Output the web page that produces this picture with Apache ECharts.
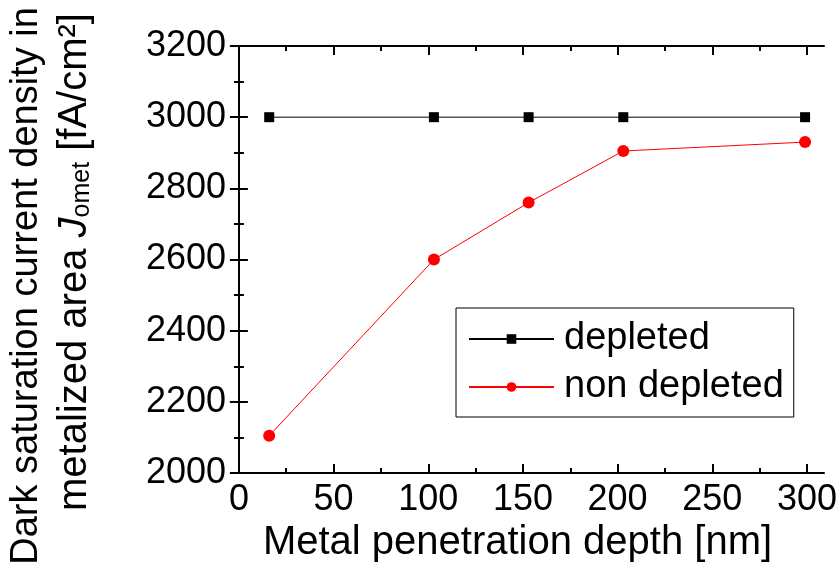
<!DOCTYPE html>
<html>
<head>
<meta charset="utf-8">
<script src="https://cdn.jsdelivr.net/npm/echarts@6/dist/echarts.min.js"></script>
<style>
html, body { margin: 0; padding: 0; background: #fff; }
#myChartMain { width: 840px; height: 568px; }
</style>
</head>
<body>
<div id="myChartMain"></div>
<script>
// metal penetration depth [nm]
var depth = [16, 103, 153, 203, 299];
// J0met [fA/cm2]
var depleted = [3000, 3000, 3000, 3000, 3000];
var nonDepleted = [2105, 2600, 2760, 2905, 2930];
// ticks on the x axis
var xMajor = [0, 50, 100, 150, 200, 250, 300];
var xMinor = [25, 75, 125, 175, 225, 275];

var FONT = '"Liberation Sans", Arial, sans-serif';

function pairs(xs, ys) {
    return xs.map(function (x, i) { return [x, ys[i]]; });
}

var myChart = echarts.init(document.getElementById('myChartMain'));

var axisLine = { show: true, lineStyle: { color: '#000', width: 2 } };

// x axes: major + minor ticks, bottom and top (mirror)
function xAxisDef(pos, ticks, len, withLabel) {
    return {
        type: 'value',
        position: pos,
        min: -1,
        max: 309,
        axisLine: withLabel !== null ? axisLine : { show: false },
        axisTick: { show: true, inside: true, length: len, customValues: ticks,
            lineStyle: { color: '#000', width: 2 } },
        axisLabel: withLabel ? {
            show: true, customValues: xMajor, fontSize: 36, fontFamily: FONT,
            color: '#000', margin: 9
        } : { show: false },
        splitLine: { show: false }
    };
}

var xBottom = xAxisDef('bottom', xMajor, 9, true);
xBottom.name = 'Metal penetration depth [nm]';
xBottom.nameLocation = 'middle';
xBottom.nameGap = 49;
xBottom.nameTextStyle = { fontSize: 40, fontFamily: FONT, color: '#000', padding: [0, 26, 0, 0] };

function yAxisDef(pos, withLabel) {
    return {
        type: 'value',
        position: pos,
        min: 2000,
        max: 3200,
        interval: 200,
        axisLine: axisLine,
        axisTick: { show: true, inside: true, length: 9, lineStyle: { color: '#000', width: 2 } },
        minorTick: { show: true, splitNumber: 2, length: 5, lineStyle: { color: '#000', width: 2 } },
        axisLabel: withLabel ? {
            show: true, fontSize: 36, fontFamily: FONT, color: '#000', margin: 11,
            formatter: function (v) { return String(v); }
        } : { show: false },
        splitLine: { show: false },
        minorSplitLine: { show: false }
    };
}

var option = {
    animation: false,
    backgroundColor: '#fff',
    grid: { left: 237, right: 13, top: 46, bottom: 90, containLabel: false },
    xAxis: [
        xBottom,
        xAxisDef('bottom', xMinor, 5, null),
        xAxisDef('top', xMajor, 9, false),
        xAxisDef('top', xMinor, 5, null)
    ],
    yAxis: [yAxisDef('left', true), yAxisDef('right', false)],
    legend: {
        orient: 'vertical',
        left: 456,
        top: 308,
        padding: [12, 10, 11, 12],
        itemGap: 10,
        itemWidth: 85,
        itemHeight: 12,
        borderColor: '#000',
        borderWidth: 1,
        backgroundColor: '#fff',
        selectedMode: false,
        textStyle: { fontSize: 38, fontFamily: FONT, color: '#000', padding: [0, 0, 0, 5] },
        data: ['depleted', 'non depleted']
    },
    graphic: [
        {
            type: 'text',
            x: 27,
            y: 286,
            rotation: Math.PI / 2,
            style: {
                text: 'Dark saturation current density in',
                fontSize: 38,
                fontFamily: FONT,
                fill: '#000',
                align: 'center',
                verticalAlign: 'middle'
            }
        },
        {
            type: 'text',
            x: 75,
            y: 262,
            rotation: Math.PI / 2,
            style: {
                text: '{n|metalized area }{j|J}{s|omet}{n| [fA/cm²]}',
                align: 'center',
                verticalAlign: 'middle',
                fill: '#000',
                rich: {
                    n: { fontSize: 40, fontFamily: FONT, fill: '#000', lineHeight: 40, verticalAlign: 'bottom' },
                    j: { fontSize: 40, fontFamily: FONT, fontStyle: 'italic', fill: '#000', lineHeight: 40, verticalAlign: 'bottom' },
                    s: { fontSize: 25, fontFamily: FONT, fill: '#000', lineHeight: 20, verticalAlign: 'bottom' }
                }
            }
        }
    ],
    series: [
        {
            name: 'depleted',
            type: 'line',
            xAxisIndex: 0,
            yAxisIndex: 0,
            data: pairs(depth, depleted),
            symbol: 'rect',
            symbolSize: 10,
            itemStyle: { color: '#000' },
            lineStyle: { color: '#000', width: 1 }
        },
        {
            name: 'non depleted',
            type: 'line',
            xAxisIndex: 0,
            yAxisIndex: 0,
            data: pairs(depth, nonDepleted),
            symbol: 'circle',
            symbolSize: 12,
            itemStyle: { color: '#ff0000' },
            lineStyle: { color: '#ff0000', width: 1 }
        }
    ]
};

myChart.setOption(option);
</script>
</body>
</html>
